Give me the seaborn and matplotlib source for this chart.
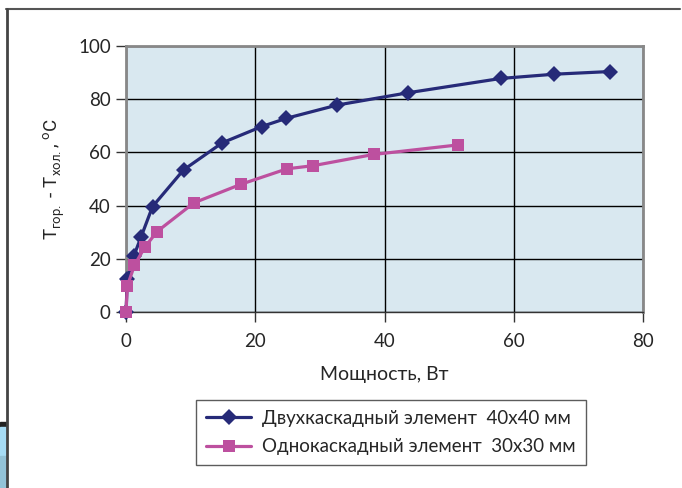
import pandas as pd
import matplotlib
matplotlib.use('Agg')
import matplotlib.pyplot as plt
import seaborn as sns
from matplotlib.lines import Line2D
from matplotlib.patches import Rectangle

# data
two_stage_x = [0, 0.2, 1.2, 2.3, 4.1, 8.9, 14.9, 21.0, 24.8, 32.7, 43.6, 58.0, 66.3, 74.9]
two_stage_y = [0, 12.4, 21, 28, 39.6, 53.4, 63.6, 69.7, 72.8, 77.8, 82.4, 87.8, 89.4, 90.4]
one_stage_x = [0, 0.2, 1.3, 2.9, 4.8, 10.5, 17.8, 24.9, 29.0, 38.3, 51.4]
one_stage_y = [0, 9.7, 17.5, 24.3, 30.2, 41, 48, 53.8, 55, 59.2, 62.8]
names = ['Двухкаскадный элемент  40x40 мм', 'Однокаскадный элемент  30x30 мм']
x_ticks = [0, 20, 40, 60, 80]
y_ticks = [0, 20, 40, 60, 80, 100]

df = pd.concat([
    pd.DataFrame({'P': two_stage_x, 'dT': two_stage_y, 'series': names[0]}),
    pd.DataFrame({'P': one_stage_x, 'dT': one_stage_y, 'series': names[1]}),
])

sns.set_style('white')
plt.rcParams['font.family'] = ['Lato', 'DejaVu Sans']
plt.rcParams['mathtext.fontset'] = 'custom'
plt.rcParams['mathtext.rm'] = 'Roboto'

fig = plt.figure(figsize=(6.82, 4.88), dpi=100)
ax = fig.add_axes([0.1848, 0.361, 0.7580, 0.5447])
ax.set_facecolor('#d9e8f0')

palette = {names[0]: '#262a78', names[1]: '#bd509f'}
sns.lineplot(data=df, x='P', y='dT', hue='series', style='series',
             markers={names[0]: 'D', names[1]: 's'}, dashes=False,
             palette=palette, sort=False, linewidth=2.3, markersize=8,
             markeredgewidth=0, ax=ax, zorder=3, clip_on=False)

ax.set_xlim(0, 80)
ax.set_ylim(0, 100)
ax.set_xticks(x_ticks)
ax.set_yticks(y_ticks)
ax.grid(True, color='black', linewidth=1)
ax.set_axisbelow(True)
for s in ['left', 'top', 'right']:
    ax.spines[s].set_color('#888888')
    ax.spines[s].set_linewidth(2)
ax.spines['bottom'].set_color('#333333')
ax.spines['bottom'].set_linewidth(1)
ax.tick_params(axis='both', direction='out', length=7, width=1,
               color='#333333', labelsize=13.5, left=True, bottom=True)
ax.tick_params(axis='x', pad=8)
ax.tick_params(axis='y', pad=4)

ax.set_xlabel('Мощность, Вт', fontsize=14, labelpad=12)
ax.set_ylabel(r'T$_{\mathregular{гор.}}$ - T$_{\mathregular{хол.}}$, $^{\mathregular{o}}$C',
              fontsize=13.5, family='Roboto', labelpad=8)

leg = ax.legend(loc='upper left', bbox_to_anchor=(0.135, -0.33), fontsize=13.5,
                frameon=True, fancybox=False, edgecolor='#333333',
                handlelength=2.4, handletextpad=0.6, borderpad=0.55,
                labelspacing=0.6, borderaxespad=0)
leg.get_frame().set_linewidth(1)

# page frame bits around the chart
fig.add_artist(Line2D([0.009, 0.997], [0.981, 0.981], color='#555555', linewidth=1.5))
fig.add_artist(Line2D([0.010, 0.010], [0.981, 0.0], color='#444444', linewidth=2))
fig.add_artist(Rectangle((0, 0.125), 0.009, 0.01, color='#222222'))
fig.add_artist(Rectangle((0, 0.065), 0.009, 0.06, color='#a6dcf5'))
fig.add_artist(Rectangle((0, 0.0), 0.009, 0.065, color='#93c3d8'))

fig.savefig('out.png', dpi=100)
